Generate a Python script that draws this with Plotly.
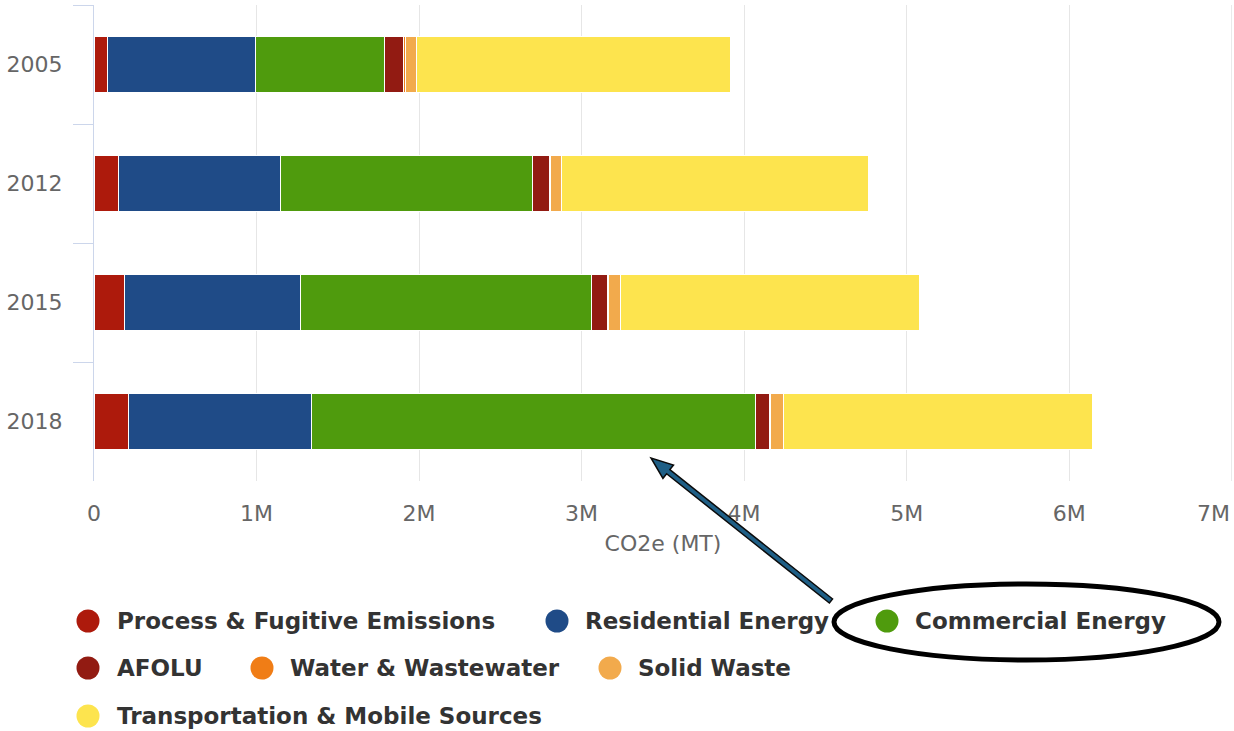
import numpy as np
import plotly.graph_objects as go

# Emissions inventory by sector (metric tons CO2e)
years = ["2005", "2012", "2015", "2018"]
process_fugitive = [86000, 150000, 190000, 210000]
residential_energy = [910000, 1000000, 1080000, 1130000]
commercial_energy = [790000, 1550000, 1790000, 2730000]
afolu = [120000, 100000, 100000, 86000]
water_wastewater = [8000, 8000, 8000, 8000]
solid_waste = [70000, 70000, 74000, 80000]
transportation = [1930000, 1890000, 1840000, 1900000]

series_names = [
    "Process & Fugitive Emissions", "Residential Energy", "Commercial Energy",
    "AFOLU", "Water & Wastewater", "Solid Waste", "Transportation & Mobile Sources",
]
series_values = [process_fugitive, residential_energy, commercial_energy,
                 afolu, water_wastewater, solid_waste, transportation]
series_colors = ["#ad1a0c", "#1f4b87", "#4f9b0d", "#921b12",
                 "#f07d16", "#f2aa4c", "#fde44e"]

x_tickvals = [0, 1e6, 2e6, 3e6, 4e6, 5e6, 6e6, 7e6]
x_ticktext = ["0", "1M", "2M", "3M", "4M", "5M", "6M", "7M"]

W, H = 1234, 731
ML, MR, MT, MB = 94, 2, 5, 250
PW, PH = W - ML - MR, H - MT - MB


def px(x):
    return (x - ML) / PW


def py(y):
    return (H - MB - y) / PH


FONT = "DejaVu Sans"
TICK_FONT = dict(family=FONT, size=22, color="#666666")

fig = go.Figure()
for name, vals, col in zip(series_names, series_values, series_colors):
    fig.add_trace(go.Bar(
        y=years, x=vals, name=name, orientation="h",
        marker=dict(color=col, line=dict(color="white", width=1)),
        width=0.465, showlegend=False,
    ))

fig.update_layout(
    width=W, height=H, autosize=False,
    margin=dict(l=ML, r=MR, t=MT, b=MB),
    barmode="stack",
    plot_bgcolor="white", paper_bgcolor="white",
    font=dict(family=FONT, color="#666666"),
)
# The last tick label is drawn right-aligned to the axis end so it stays inside
fig.update_xaxes(
    range=[0, 7.002e6], tickvals=x_tickvals[:-1], ticktext=x_ticktext[:-1],
    showgrid=True, gridcolor="#e6e6e6", gridwidth=1,
    zeroline=False, showline=False, ticks="", automargin=False,
    ticklabelstandoff=17,
    tickfont=TICK_FONT,
    title=dict(text="CO2e (MT)", font=dict(size=22, color="#666666"), standoff=10),
)
fig.update_yaxes(
    categoryorder="array", categoryarray=years, autorange="reversed",
    showgrid=False, showline=True, linecolor="#ccd6eb", linewidth=1,
    ticks="outside", tickson="boundaries", ticklen=20, tickcolor="#ccd6eb",
    ticklabelstandoff=26, automargin=False,
    tickfont=TICK_FONT,
)

shapes = [dict(type="line", xref="x", yref="paper", x0=x_tickvals[-1], x1=x_tickvals[-1],
               y0=0, y1=1, line=dict(color="#e6e6e6", width=1), layer="below")]
annotations = [dict(x=x_tickvals[-1], y=py(513), xref="x", yref="paper",
                    text=x_ticktext[-1], showarrow=False, xanchor="right", yanchor="middle",
                    font=TICK_FONT)]

# Legend laid out in three rows below the axis title
legend_pos = [
    (88, 621, 115), (557, 621, 583), (887, 621, 913),
    (88, 668, 115), (262, 668, 288), (610, 668, 636),
    (88, 716, 115),
]
r = 11.5
for name, col, (cx, cy, tx) in zip(series_names, series_colors, legend_pos):
    shapes.append(dict(type="circle", xref="paper", yref="paper",
                       x0=px(cx - r), x1=px(cx + r), y0=py(cy + r), y1=py(cy - r),
                       fillcolor=col, line=dict(width=0)))
    annotations.append(dict(x=px(tx), y=py(cy), xref="paper", yref="paper",
                            text=name, showarrow=False, xanchor="left", yanchor="middle",
                            font=dict(family=FONT, size=23, color="#333333", weight="bold")))

# Highlight around the Commercial Energy legend entry
shapes.append(dict(type="circle", xref="paper", yref="paper",
                   x0=px(834), x1=px(1219), y0=py(660), y1=py(584),
                   line=dict(color="black", width=5), fillcolor="rgba(0,0,0,0)"))

# Callout arrow pointing at the 2018 commercial segment
tip = np.array([651.0, 458.0])
tail = np.array([831.0, 601.0])
u = (tip - tail) / np.linalg.norm(tip - tail)
n = np.array([-u[1], u[0]])
shaft_hw, head_len, head_hw = 2.6, 22.0, 8.5
neck = tip - u * head_len
pts = [tail + n * shaft_hw, neck + n * shaft_hw, neck + n * head_hw, tip,
       neck - n * head_hw, neck - n * shaft_hw, tail - n * shaft_hw]
path = "M " + " L ".join(f"{px(p[0]):.5f},{py(p[1]):.5f}" for p in pts) + " Z"
shapes.append(dict(type="path", xref="paper", yref="paper", path=path,
                   fillcolor="#1f5f86", line=dict(color="#0b0b0b", width=1.5)))

fig.update_layout(shapes=shapes, annotations=annotations)

fig.write_html("out.html")
